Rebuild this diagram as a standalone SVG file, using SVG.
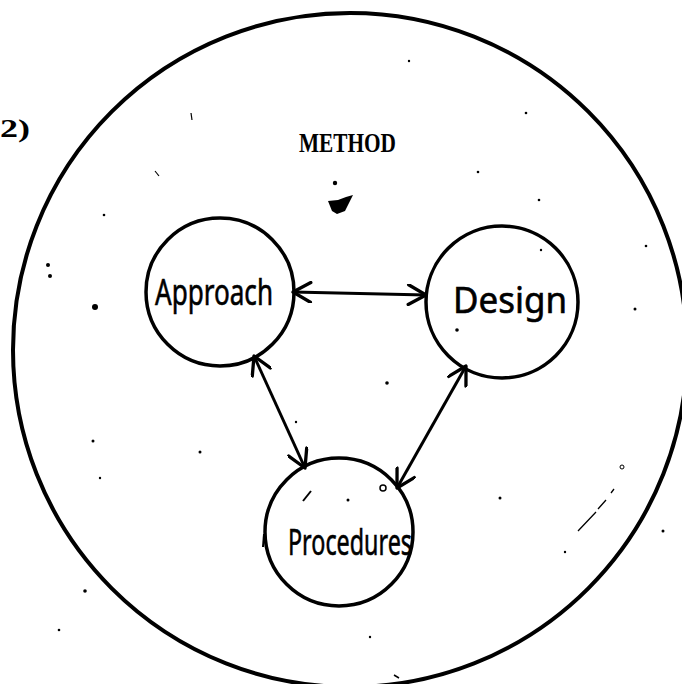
<svg xmlns="http://www.w3.org/2000/svg" width="682" height="684" viewBox="0 0 682 684">
  <style>
    .ring { fill: none; stroke: #000; stroke-width: 3.5; }
    .outer { fill: none; stroke: #000; stroke-width: 4; }
    .hand { font-family: "Noto Sans", "DejaVu Sans", sans-serif; font-size: 36px; fill: #000; stroke: #000; stroke-width: 0.6; }
    .type { font-family: "Liberation Serif", "DejaVu Serif", serif; font-weight: bold; fill: #000; }
    .link { stroke: #000; stroke-width: 3; fill: none; marker-start: url(#tip); marker-end: url(#tip); }
    .speck { fill: #000; }
  </style>
  <defs>
    <marker id="tip" markerUnits="userSpaceOnUse" markerWidth="22" markerHeight="22" viewBox="0 0 20 20" refX="18" refY="10" orient="auto-start-reverse">
      <path d="M2,1 L18,10 L2,19" fill="none" stroke="#000" stroke-width="3" stroke-linecap="round" stroke-linejoin="round"/>
    </marker>
  </defs>
  <rect width="682" height="684" fill="#fff"/>

  <!-- figure number -->
  <text class="type" x="0" y="137" font-size="26" textLength="30" lengthAdjust="spacingAndGlyphs">2)</text>

  <!-- enclosing METHOD circle -->
  <g id="method">
    <circle class="outer" cx="350" cy="350" r="337"/>
    <text class="type" x="299" y="152" font-size="28" textLength="97" lengthAdjust="spacingAndGlyphs">METHOD</text>
  </g>

  <g id="approach">
    <circle class="ring" cx="220" cy="292" r="74"/>
    <text class="hand" x="155" y="305" textLength="118" lengthAdjust="spacingAndGlyphs">Approach</text>
  </g>

  <g id="design">
    <circle class="ring" cx="502" cy="302" r="76"/>
    <text class="hand" x="453" y="313" textLength="114" lengthAdjust="spacingAndGlyphs">Design</text>
  </g>

  <g id="procedures">
    <circle class="ring" cx="339" cy="532" r="74"/>
    <text class="hand" x="288" y="555" textLength="124" lengthAdjust="spacingAndGlyphs">Procedures</text>
  </g>

  <!-- two-way links between the three parts -->
  <g id="connectors">
    <line class="link" x1="293" y1="292" x2="426" y2="295"/>
    <line class="link" x1="254" y1="356" x2="305" y2="468"/>
    <line class="link" x1="466" y1="366" x2="397" y2="488"/>
  </g>

  <!-- ink specks -->
  <g id="specks">
    <circle class="speck" cx="95" cy="307" r="3"/>
    <circle class="speck" cx="48" cy="265" r="2"/>
    <circle class="speck" cx="50" cy="276" r="2"/>
    <circle class="speck" cx="335" cy="183" r="2.2"/>
    <path class="speck" d="M328,201 L338,200 L346,197 L353,195 L349,203 L345,211 L337,214 L332,211 L330,206 Z"/>
    <circle class="speck" cx="387" cy="383" r="1.8"/>
    <circle class="speck" cx="457" cy="330" r="1.8"/>
    <circle cx="383" cy="488" r="3" fill="none" stroke="#000" stroke-width="1.5"/>
    <circle class="speck" cx="348" cy="500" r="1.5"/>
    <path d="M303,501 L311,491" stroke="#000" stroke-width="2"/>
    <circle class="speck" cx="200" cy="452" r="1.5"/>
    <circle class="speck" cx="93" cy="441" r="1.5"/>
    <circle class="speck" cx="635" cy="309" r="1.5"/>
    <circle class="speck" cx="500" cy="498" r="1.5"/>
    <circle cx="622" cy="467" r="2" fill="none" stroke="#000" stroke-width="1"/>
    <path d="M578,531 L596,512 M598,509 L606,500 M611,493 L614,489" stroke="#000" stroke-width="1.3"/>
    <circle class="speck" cx="565" cy="552" r="1.2"/>
    <circle class="speck" cx="663" cy="531" r="1.5"/>
    <circle class="speck" cx="85" cy="591" r="1.8"/>
    <circle class="speck" cx="59" cy="630" r="1.3"/>
    <path d="M264,534 L263,547" stroke="#000" stroke-width="2"/>
    <circle class="speck" cx="539" cy="200" r="1.3"/>
    <circle class="speck" cx="478" cy="172" r="1.3"/>
    <circle class="speck" cx="409" cy="61" r="1.2"/>
    <path d="M191,113 L192,120" stroke="#000" stroke-width="1.2"/>
    <path d="M155,171 L159,176" stroke="#000" stroke-width="1.2"/>
    <circle class="speck" cx="526" cy="113" r="1.3"/>
    <circle class="speck" cx="646" cy="246" r="1.3"/>
    <circle class="speck" cx="100" cy="478" r="1.2"/>
    <circle class="speck" cx="370" cy="637" r="1.2"/>
    <path d="M394,675 L399,678" stroke="#000" stroke-width="1.5"/>
    <circle class="speck" cx="296" cy="422" r="1.2"/>
    <circle class="speck" cx="104" cy="215" r="1.3"/>
    <circle class="speck" cx="541" cy="250" r="1.2"/>
  </g>
</svg>
